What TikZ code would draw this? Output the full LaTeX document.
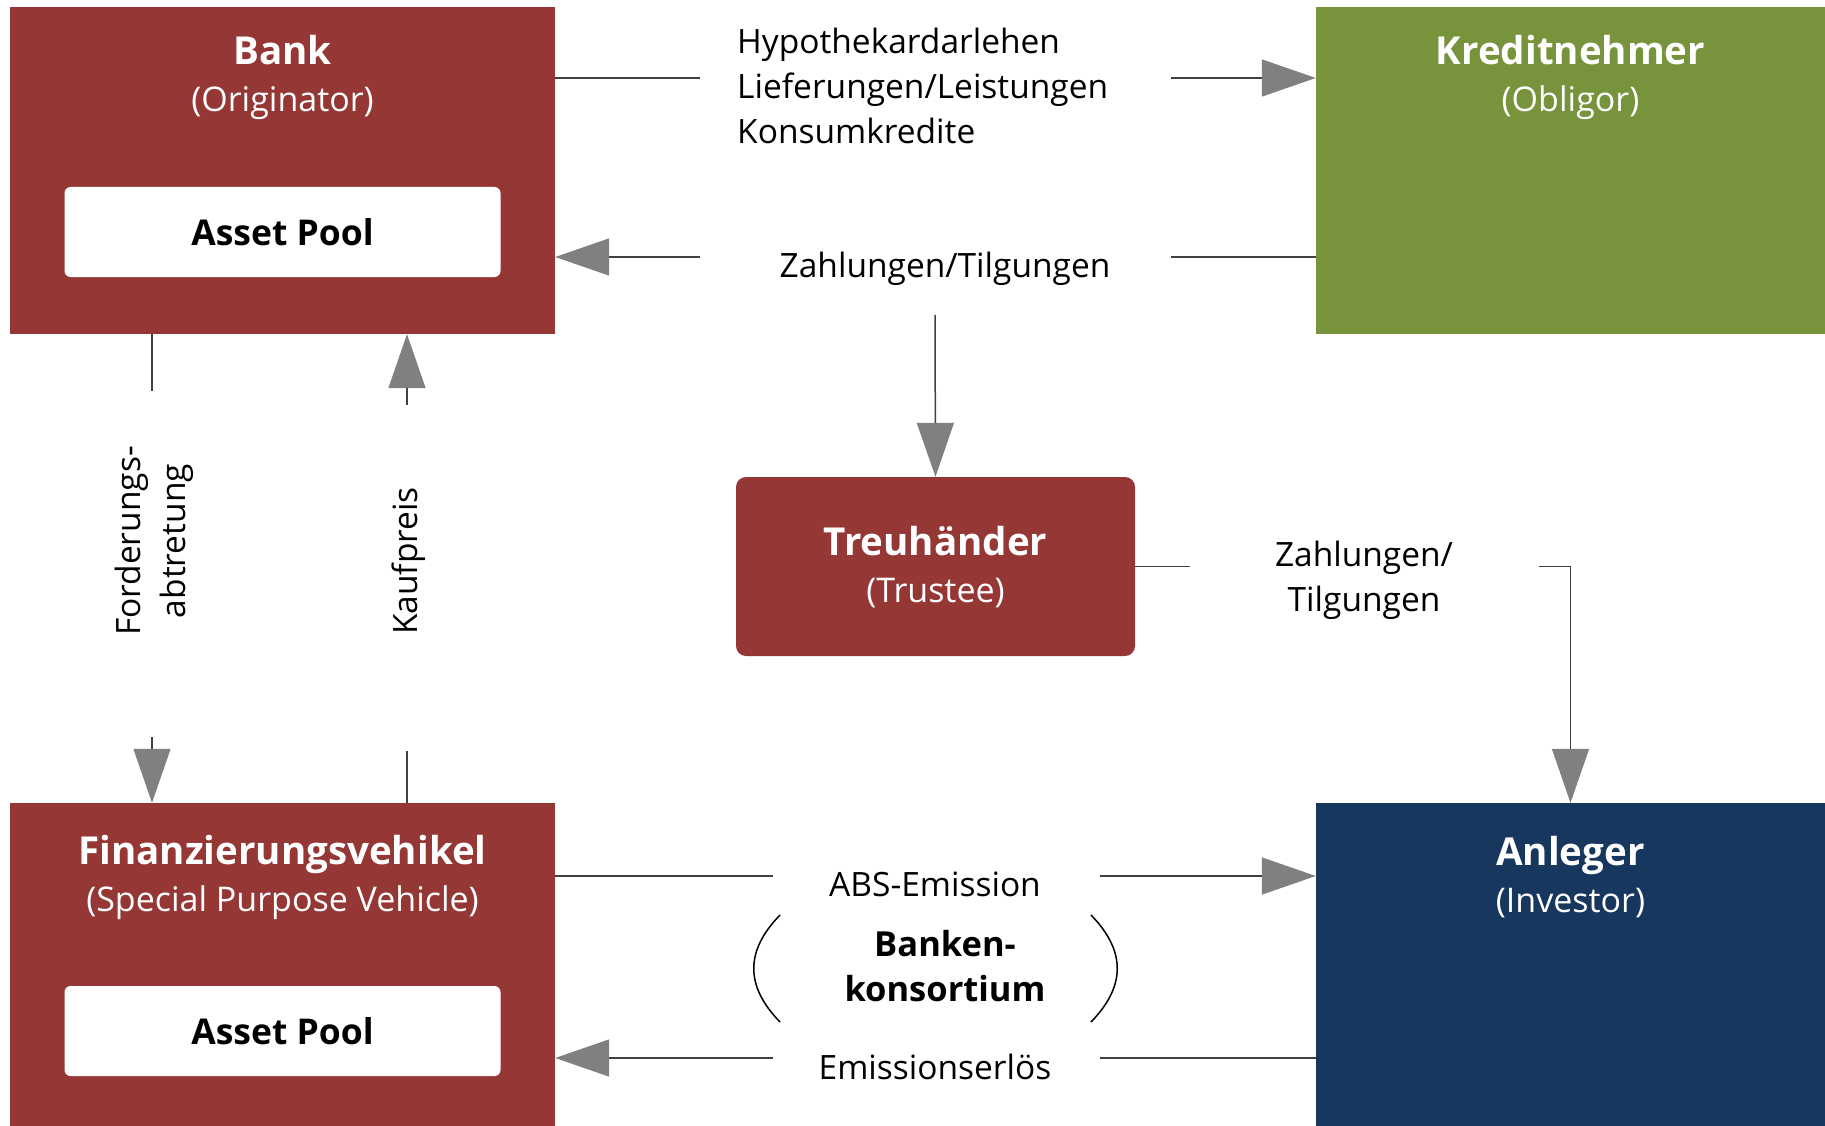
\documentclass[tikz,border=0pt]{standalone}
\usepackage{fontspec}
\setmainfont{Open Sans}
\usetikzlibrary{arrows.meta, positioning}

\definecolor{bankred}{RGB}{149,55,53}
\definecolor{oblgreen}{RGB}{119,147,60}
\definecolor{invblue}{RGB}{24,55,94}
\definecolor{tipgray}{RGB}{128,128,128}

\newcommand{\hd}[1]{{\fontsize{38.5}{47}\selectfont\bfseries #1}}

\tikzset{
  flow/.style={line width=1.5pt, draw=black!75},
  tip/.style={-{Triangle[length=54pt,width=37pt,color=tipgray]}},
  txt/.style={font=\fontsize{33.5}{45}\selectfont, inner sep=0pt, align=center},
  title/.style={font=\fontsize{34}{47}\selectfont, text=white, align=center, inner sep=0pt},
  party/.style={minimum width=545pt, minimum height=327pt, inner sep=0pt},
  pool/.style={fill=white, rounded corners=6pt, minimum width=436pt,
    minimum height=90pt, font=\fontsize{35.5}{40}\selectfont\bfseries}
}

\begin{document}
\begin{tikzpicture}[x=1pt,y=-1pt]
\useasboundingbox (0,0) rectangle (1825,1126);

% Bank
\node[party, fill=bankred] (bank) at (282.5,170.5) {};
\node[title] (banktitle) at (282.5,77.5) {\hd{Bank}\\(Originator)};
\node[pool, below=180pt of bank.north] (pool1) {Asset Pool};

% Kreditnehmer
\node[party, fill=oblgreen, minimum width=509pt] (kredit) at (1570.5,170.5) {};
\node[title] (kredittitle) at (1570.5,77.5) {\hd{Kreditnehmer}\\(Obligor)};

% Treuhaender
\node[fill=bankred,
    rounded corners=10pt,
    minimum width=399pt,
    minimum height=179pt,
    inner sep=0pt] (treu) at (935.5,566.5) {};
\node[title] (treutitle) at (935.5,567.5) {\hd{Treuhänder}\\(Trustee)};

% Finanzierungsvehikel
\node[party, fill=bankred, minimum height=323pt] (spv) at (282.5,964.5) {};
\node[title] (spvtitle) at (282.5,877) {\hd{Finanzierungsvehikel}\\(Special Purpose Vehicle)};
\node[pool, below=183pt of spv.north] (pool2) {Asset Pool};

% Anleger
\node[party, fill=invblue, minimum width=509pt, minimum height=323pt] (anleger) at (1570.5,964.5) {};
\node[title] (anlegertitle) at (1570.5,877) {\hd{Anleger}\\(Investor)};

% Labels
\node[txt, align=left, anchor=west] (hypo) at (737,86) {Hypothekardarlehen\\Lieferungen/Leistungen\\Konsumkredite};
\node[txt] (zahl1) at (945,269) {Zahlungen/Tilgungen};
\node[txt] (zahl2) at (1364,580) {Zahlungen/\\Tilgungen};
\node[txt, rotate=90] (forder) at (154,541) {Forderungs-\\abtretung};
\node[txt, rotate=90] (kauf) at (409,561) {Kaufpreis};
\node[txt] (abs) at (935,884) {ABS-Emission};
\node[txt] (erloes) at (935,1067) {Emissionserlös};
\node[txt, font=\fontsize{34.5}{45}\selectfont\bfseries] (banken) at (945,966) {Banken-\\konsortium};

% Line ends
\coordinate (h1) at (700,78);
\coordinate (h2) at (1171,78);
\coordinate (z1) at (700,257);
\coordinate (z2) at (1171,257);
\coordinate (z3) at (935,315);
\coordinate (t1) at (1190,566.5);
\coordinate (t2) at (1539,566.5);
\coordinate (f1) at (152,391);
\coordinate (f2) at (152,737);
\coordinate (k1) at (407,405);
\coordinate (k2) at (407,751);
\coordinate (a1) at (773,876);
\coordinate (a2) at (1100,876);
\coordinate (e1) at (773,1058);
\coordinate (e2) at (1100,1058);

% Arrows
\draw[flow] (bank.east |- h1) -- (h1);
\draw[flow, tip] (h2) -- (kredit.west |- h2);
\draw[flow] (kredit.west |- z2) -- (z2);
\draw[flow, tip] (z1) -- (bank.east |- z1);
\draw[flow, tip] (z3) -- (treu.north);
\draw[flow] (treu.east) -- (t1);
\draw[flow, tip] (t2) -| (anleger.north);
\draw[flow] (bank.south -| f1) -- (f1);
\draw[flow, tip] (f2) -- (spv.north -| f2);
\draw[flow] (spv.north -| k2) -- (k2);
\draw[flow, tip] (k1) -- (bank.south -| k1);
\draw[flow] (spv.east |- a1) -- (a1);
\draw[flow, tip] (a2) -- (anleger.west |- a2);
\draw[flow] (anleger.west |- e2) -- (e2);
\draw[flow, tip] (e1) -- (spv.east |- e1);

% Klammern
\draw[line width=1.5pt] (780,915) .. controls (745,951) and (745,986) .. (780,1022);
\draw[line width=1.5pt] (1091,915) .. controls (1126,951) and (1126,986) .. (1091,1022);

\end{tikzpicture}
\end{document}
